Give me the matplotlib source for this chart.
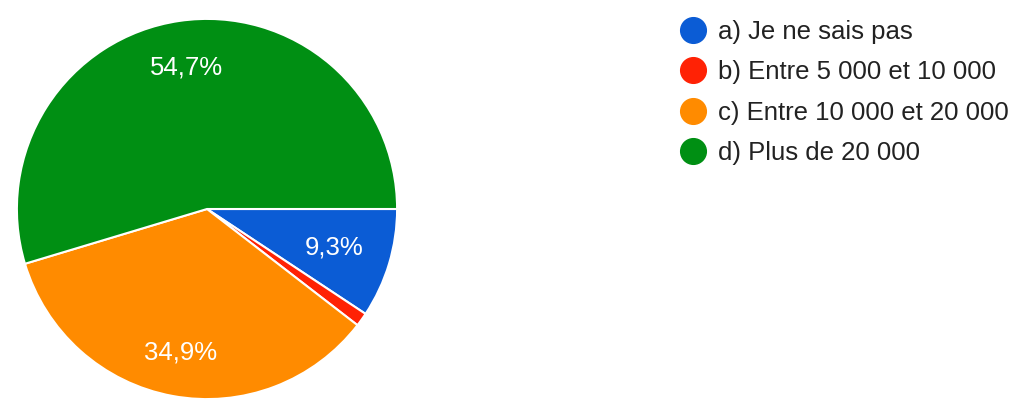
import numpy as np
import matplotlib.pyplot as plt
from matplotlib.lines import Line2D

labels = ["a) Je ne sais pas", "b) Entre 5 000 et 10 000",
          "c) Entre 10 000 et 20 000", "d) Plus de 20 000"]
counts = [8, 1, 30, 47]
colors = ["#0b5cd5", "#ff2205", "#ff8b00", "#008f13"]

plt.rcParams["font.family"] = ["Liberation Sans", "DejaVu Sans"]

fig = plt.figure(figsize=(10.24, 4.2), dpi=100)
W, H = 1024, 420
cx, cy, r = 207, 209, 192
ax = fig.add_axes([(cx - r) / W, (H - cy - r) / H, 2 * r / W, 2 * r / H])


def fmt(p):
    return ("%.1f%%" % p).replace(".", ",") if p > 5 else ""


wedges, texts, autotexts = ax.pie(
    counts, colors=colors, startangle=0, counterclock=False,
    autopct=fmt, pctdistance=0.73, radius=1,
    wedgeprops=dict(edgecolor="white", linewidth=1.5),
    textprops=dict(color="white", fontsize=18.5))

# nudge labels outward a little, like the original
label_dist = [0.70, 0.73, 0.77, 0.75]
for w, t, d in zip(wedges, autotexts, label_dist):
    mid = np.deg2rad((w.theta1 + w.theta2) / 2)
    t.set_position((d * np.cos(mid), d * np.sin(mid)))

ax.set_xlim(-1.01, 1.01)
ax.set_ylim(-1.01, 1.01)
ax.set_aspect("equal")
ax.axis("off")

handles = [Line2D([], [], marker="o", linestyle="none", markersize=18.5,
                  markerfacecolor=c, markeredgecolor=c) for c in colors]
fig.legend(handles, labels, loc="upper left",
           bbox_to_anchor=(667 / W, 1 - 7 / H), frameon=False,
           fontsize=18.5, labelspacing=0.64, handletextpad=0.47,
           handlelength=1.0, borderpad=0, labelcolor="#222222")

fig.savefig("out.png", dpi=100, facecolor="white")
